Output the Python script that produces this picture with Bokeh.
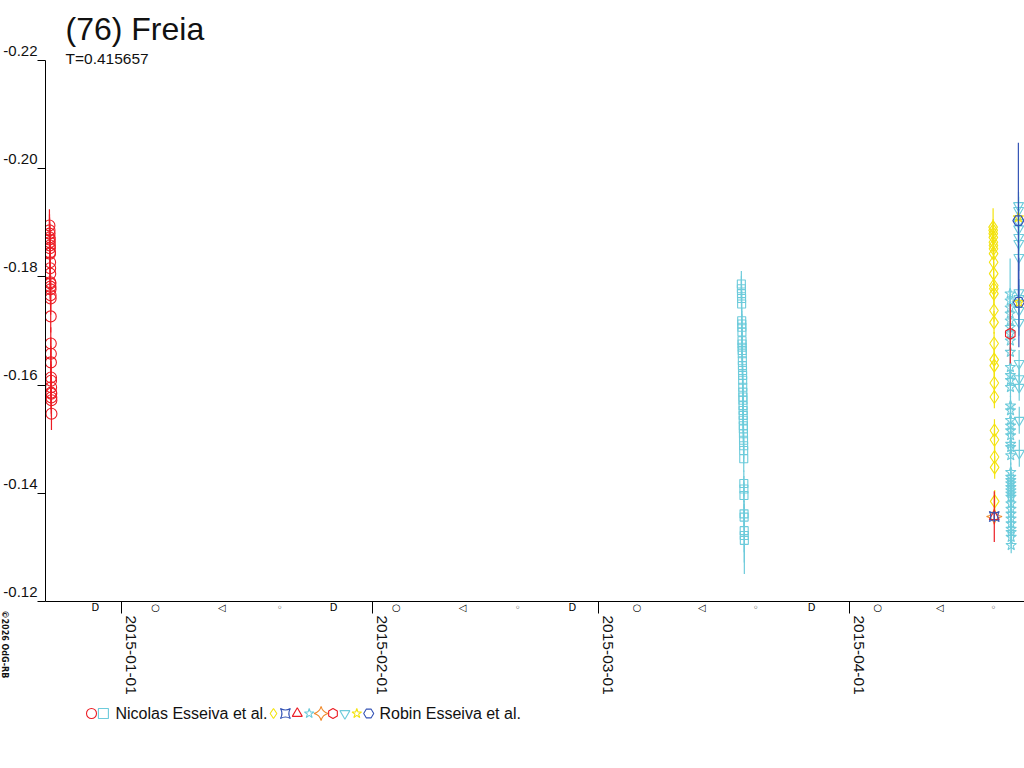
import numpy as np
import pandas as pd
from math import pi
from bokeh.plotting import figure
from bokeh.layouts import column
from bokeh.models import (Range1d, FixedTicker, ColumnDataSource, Label, Title, LinearAxis)
from bokeh.core.properties import value
from bokeh.embed import file_html
from bokeh.resources import INLINE

# ---------------- texts ----------------
TITLE = "(76) Freia"
SUBTITLE = "T=0.415657"
COPYRIGHT = "©2026 OdG-RB"
LEGEND_A = "Nicolas Esseiva et al."
LEGEND_B = "Robin Esseiva et al."

# ---------------- axes ----------------
y_ticks = [-0.22, -0.20, -0.18, -0.16, -0.14, -0.12]
y_tick_labels = ["-0.22", "-0.20", "-0.18", "-0.16", "-0.14", "-0.12"]
x_ticks = ["2015-01-01", "2015-02-01", "2015-03-01", "2015-04-01"]
x_tick_labels = ["2015-01-01", "2015-02-01", "2015-03-01", "2015-04-01"]
x_limits = ["2014-12-22 14:20", "2015-04-22 15:10"]
y_limits = [-0.12, -0.22]

# moon phases (FQ first quarter, FM full, LQ last quarter, NM new)
moon_dates = ["2014-12-28 18:31", "2015-01-05 04:53", "2015-01-13 09:46", "2015-01-20 13:14",
              "2015-01-27 04:48", "2015-02-03 23:09", "2015-02-12 03:50", "2015-02-18 23:47",
              "2015-02-25 17:14", "2015-03-05 18:05", "2015-03-13 17:48", "2015-03-20 09:36",
              "2015-03-27 07:43", "2015-04-04 12:06", "2015-04-12 03:44", "2015-04-18 18:57"]
moon_phase = ["FQ", "FM", "LQ", "NM", "FQ", "FM", "LQ", "NM",
              "FQ", "FM", "LQ", "NM", "FQ", "FM", "LQ", "NM"]

# ---------------- data ----------------
# Nicolas Esseiva et al. - red circles, 2014-12-23
red_circ_day = "2014-12-23"
red_circ_hm = ["02:00", "02:12", "02:24", "02:36", "02:48", "03:00", "03:12", "03:24", "03:36",
               "03:48", "04:00", "04:12", "04:24", "04:36", "04:48", "05:00", "05:12", "05:24",
               "05:36", "05:48", "06:00", "06:12", "06:24", "06:36", "06:48", "07:00", "07:12",
               "07:24", "07:36", "07:48", "08:00"]
red_circ_val = [-0.1895, -0.1886, -0.1880, -0.1873, -0.1869, -0.1864, -0.1858, -0.1853,
                -0.1845, -0.1843, -0.1827, -0.1816, -0.1806, -0.1790, -0.1788, -0.1782,
                -0.1777, -0.1766, -0.1760, -0.1727, -0.1677, -0.1658, -0.1642, -0.1614,
                -0.1608, -0.1596, -0.1586, -0.1584, -0.1577, -0.1572, -0.1547]
red_circ_err = [0.003] * 31

# Nicolas Esseiva et al. - cyan squares, 2015-03-18
cyan_sq_day = "2015-03-18"
cyan_sq_hm = ["15:00", "15:13", "15:26", "15:39", "15:52", "16:05", "16:18", "16:31", "16:44",
              "16:57", "17:10", "17:23", "17:36", "17:49", "18:02", "18:15", "18:28", "18:41",
              "18:54", "19:07", "19:20", "19:33", "19:46", "19:59", "20:12", "20:25", "20:38",
              "20:51", "21:04", "21:17", "21:30", "21:43", "21:56", "22:09", "22:22", "22:35",
              "22:48", "23:01", "23:14", "23:27", "23:40", "23:53"]
cyan_sq_val = [-0.1787, -0.1778, -0.1769, -0.1760, -0.1750, -0.1719, -0.1713, -0.1707,
               -0.1698, -0.1682, -0.1676, -0.1670, -0.1664, -0.1658, -0.1645, -0.1636,
               -0.1627, -0.1618, -0.1609, -0.1596, -0.1587, -0.1578, -0.1572, -0.1562,
               -0.1553, -0.1544, -0.1535, -0.1525, -0.1519, -0.1510, -0.1498, -0.1488,
               -0.1479, -0.1464, -0.1418, -0.1408, -0.1396, -0.1362, -0.1356, -0.1331,
               -0.1322, -0.1313]
cyan_sq_err = [0.0024] * 39 + [0.004, 0.005, 0.0062]

# Robin Esseiva et al. - yellow diamonds, 2015-04-18
yel_dia_day = "2015-04-18"
yel_dia_hm = ["18:00", "18:12", "18:24", "18:36", "18:48", "19:00", "19:12", "19:24", "19:36",
              "19:48", "20:00", "20:12", "20:24", "20:36", "20:48", "21:00", "21:12", "21:24",
              "21:36", "21:48", "22:00", "22:12", "22:24", "22:36", "22:48"]
yel_dia_val = [-0.1892, -0.1886, -0.1880, -0.1873, -0.1864, -0.1858, -0.1852, -0.1843,
               -0.1827, -0.1806, -0.1784, -0.1778, -0.1769, -0.1738, -0.1716, -0.1677,
               -0.1647, -0.1636, -0.1604, -0.1578, -0.1516, -0.1499, -0.1467, -0.1448,
               -0.1385]
yel_dia_err = [0.0035] + [0.0021] * 24

# Robin Esseiva et al. - single points 2015-04-18
blue_pin_t = ["2015-04-18 21:30"]
blue_pin_val = [-0.1357]
blue_pin_err = [0.001]
red_tri_t = ["2015-04-18 21:30"]
red_tri_val = [-0.1357]
red_tri_err = [0.0047]
orange_pin_t = ["2015-04-18 21:30"]
orange_pin_val = [-0.1357]
orange_pin_err = [0.001]

# Robin Esseiva et al. - cyan stars, 2015-04-20
cyan_star_day = "2015-04-20"
cyan_star_hm = ["20:30", "20:35", "20:40", "20:45", "20:50", "20:55", "21:00", "21:05", "21:10",
                "21:15", "21:20", "21:25", "21:30", "21:35", "21:40", "21:45", "21:50", "21:55",
                "22:00", "22:05", "22:10", "22:15", "22:20", "22:25", "22:30", "22:35", "22:40",
                "22:45", "22:50", "22:55", "23:00", "23:05", "23:10", "23:15", "23:20", "23:25",
                "23:30", "23:35", "23:40"]
cyan_star_val = [-0.1769, -0.1756, -0.1743, -0.1732, -0.1719, -0.1707, -0.1695, -0.1682,
                 -0.1661, -0.1633, -0.1618, -0.1609, -0.1596, -0.1562, -0.1553, -0.1535,
                 -0.1525, -0.1516, -0.1507, -0.1491, -0.1485, -0.1470, -0.1439, -0.1430,
                 -0.1424, -0.1418, -0.1411, -0.1405, -0.1399, -0.1393, -0.1381, -0.1371,
                 -0.1362, -0.1353, -0.1344, -0.1334, -0.1328, -0.1319, -0.1304]
cyan_star_err = [0.0065] + [0.0018] * 37 + [0.0015]

# red pentagon
red_pent_t = ["2015-04-20 21:00"]
red_pent_val = [-0.1695]
red_pent_err = [0.0055]

# Robin Esseiva et al. - cyan inverted triangles, 2015-04-21
cyan_itri_day = "2015-04-21"
cyan_itri_hm = ["21:30", "21:39", "21:48", "21:57", "22:06", "22:15", "22:24", "22:33", "22:42",
                "22:51", "23:00", "23:09", "23:18", "23:27", "23:36", "23:45"]
cyan_itri_val = [-0.1932, -0.1923, -0.1901, -0.1889, -0.1873, -0.1862, -0.1836, -0.1771,
                 -0.1760, -0.1738, -0.1716, -0.1640, -0.1612, -0.1596, -0.1535, -0.1474]
cyan_itri_err = [0.0025] * 16

# yellow stars and blue hexagons, 2015-04-21
yel_star_t = ["2015-04-21 21:00", "2015-04-21 22:30"]
yel_star_val = [-0.1910, -0.1753]
yel_star_err = [0.001, 0.001]
blue_hex_t = ["2015-04-21 21:00", "2015-04-21 22:30"]
blue_hex_val = [-0.1904, -0.1753]
blue_hex_err = [0.0144, 0.0083]

# ---------------- styles ----------------
RED = "#ec1c24"
CYAN = "#6dcbdb"
YELLOW = "#f3e30f"
BLUE = "#3453b5"
ORANGE = "#f08a2c"
TXT = "#111111"
SANS = "Liberation Sans"
TICK_FS = "15.5px"

STYLE = {
    "circ": ("circle", RED, 11, 0.0),
    "sq": ("square", CYAN, 8, 0.0),
    "dia": ("diamond", YELLOW, 13, 0.0),
    "bpin": ("square_pin", BLUE, 10, 0.0),
    "rtri": ("triangle", RED, 10, 0.0),
    "star": ("star", CYAN, 11, 0.0),
    "opin": ("square_pin", ORANGE, 11, pi / 4),
    "pent": ("hex", RED, 11, pi / 6),
    "itri": ("inverted_triangle", CYAN, 10, 0.0),
    "ystar": ("star", YELLOW, 11, 0.0),
    "hex": ("hex", BLUE, 11, 0.0),
}
GROUP_A = ["circ", "sq"]
GROUP_B = ["dia", "bpin", "rtri", "star", "opin", "pent", "itri", "ystar", "hex"]


def ms(dates):
    d = pd.to_datetime(pd.Series(dates))
    return ((d - pd.Timestamp("1970-01-01")) // pd.Timedelta(milliseconds=1)).astype(float).tolist()


W, H = 1024, 768
FOOT = 168  # height of the bottom strip (legend + copyright), laid over the figure's foot

p = figure(width=W, height=H, x_axis_type="datetime",
           x_range=Range1d(*ms(x_limits)), y_range=Range1d(*y_limits),
           output_backend="svg", toolbar_location=None,
           min_border_left=45, min_border_right=0, min_border_top=60, min_border_bottom=167)
p.title = None
p.grid.visible = False
p.outline_line_color = None
p.background_fill_color = "white"
p.border_fill_color = "white"

# ---- y axis: ticks + labels (label sits above its tick) ----
yax = p.yaxis[0]
yax.ticker = FixedTicker(ticks=y_ticks)
yax.major_label_overrides = {t: lab + "\n " for t, lab in zip(y_ticks, y_tick_labels)}
yax.major_label_text_font = SANS
yax.major_label_text_font_size = "15px"
yax.major_label_text_color = TXT
yax.major_label_standoff = 0
yax.major_tick_out = 8
yax.major_tick_in = 0
yax.minor_tick_out = 0
yax.minor_tick_in = 0
yax.axis_line_color = "#000000"
yax.major_tick_line_color = "#000000"

# ---- x axis: month ticks (minor) + moon phase symbols (major, no tick mark) ----
moon_sym = {"FQ": "D", "FM": "○", "LQ": "◁", "NM": "◦"}
moon_ms = ms(moon_dates)
month_ms = ms(x_ticks)
xax = p.xaxis[0]
xax.ticker = FixedTicker(ticks=moon_ms, minor_ticks=month_ms)
xax.major_label_overrides = {t: moon_sym[k] for t, k in zip(moon_ms, moon_phase)}
xax.major_label_text_font = "DejaVu Sans"
xax.major_label_text_font_size = "10px"
xax.major_label_text_color = "#000000"
xax.major_label_standoff = -12
xax.major_tick_out = 0
xax.major_tick_in = 0
xax.minor_tick_out = 12
xax.minor_tick_in = 0
xax.minor_tick_line_color = "#000000"
xax.axis_line_color = "#000000"

# ---- second x axis: rotated month labels ----
xlab = LinearAxis(ticker=FixedTicker(ticks=month_ms),
                  major_label_overrides={t: lab + "\n " for t, lab in zip(month_ms, x_tick_labels)},
                  major_label_orientation=-pi / 2, major_label_standoff=0,
                  major_label_text_font=SANS, major_label_text_font_size=TICK_FS,
                  major_label_text_color=TXT,
                  axis_line_color=None, major_tick_line_color=None, minor_tick_line_color=None,
                  major_tick_out=0, major_tick_in=0, minor_tick_out=0, minor_tick_in=0)
p.add_layout(xlab, "below")


def add_series(key, times, vals, errs):
    marker, color, size, angle = STYLE[key]
    t = ms(times)
    v = np.array(vals, dtype=float)
    e = np.array(errs, dtype=float)
    src = ColumnDataSource(dict(t=t, v=v, lo=v - e, hi=v + e))
    p.segment(x0="t", y0="lo", x1="t", y1="hi", source=src, line_color=color, line_width=1.2)
    p.scatter(x="t", y="v", source=src, marker=marker, size=size, angle=angle,
              line_color=color, fill_color=None, line_width=1.1)


def join(day, hms):
    return [day + " " + h for h in hms]


add_series("circ", join(red_circ_day, red_circ_hm), red_circ_val, red_circ_err)
add_series("sq", join(cyan_sq_day, cyan_sq_hm), cyan_sq_val, cyan_sq_err)
add_series("dia", join(yel_dia_day, yel_dia_hm), yel_dia_val, yel_dia_err)
add_series("opin", orange_pin_t, orange_pin_val, orange_pin_err)
add_series("rtri", red_tri_t, red_tri_val, red_tri_err)
add_series("bpin", blue_pin_t, blue_pin_val, blue_pin_err)
add_series("star", join(cyan_star_day, cyan_star_hm), cyan_star_val, cyan_star_err)
add_series("pent", red_pent_t, red_pent_val, red_pent_err)
add_series("itri", join(cyan_itri_day, cyan_itri_hm), cyan_itri_val, cyan_itri_err)
add_series("ystar", yel_star_t, yel_star_val, yel_star_err)
add_series("hex", blue_hex_t, blue_hex_val, blue_hex_err)

# ---- title and subtitle (subtitle first = closest to the frame) ----
p.add_layout(Title(text=SUBTITLE, align="left", offset=20, standoff=-13,
                   text_font=SANS, text_font_size=TICK_FS, text_font_style="normal",
                   text_color=TXT), "above")
p.add_layout(Title(text=TITLE, align="left", offset=20, standoff=16,
                   text_font=SANS, text_font_size="32px", text_font_style="normal",
                   text_color=TXT), "above")

# ---- bottom strip: legend keys and copyright (transparent, laid over the figure's foot) ----
foot = figure(width=W, height=FOOT, x_range=Range1d(0, W), y_range=Range1d(FOOT, 0),
              x_axis_location=None, y_axis_location=None, toolbar_location=None,
              output_backend="svg", min_border=0, margin=(-FOOT, 0, 0, 0))
foot.title = None
foot.grid.visible = False
foot.outline_line_color = None
foot.background_fill_alpha = 0
foot.border_fill_alpha = 0
for fig in (p, foot):
    if "frame_align" in fig.properties():
        fig.frame_align = False

# legend layout (pixels inside the strip)
LEG_Y = 113
A_X0, B_X0, KEY_STEP = 91, 273, 11.9
A_TEXT_X, B_TEXT_X = 115, 379


def add_keys(keys, x0):
    for i, key in enumerate(keys):
        marker, color, size, angle = STYLE[key]
        foot.scatter(x=[x0 + i * KEY_STEP], y=[LEG_Y], marker=marker, size=10, angle=angle,
                     line_color=color, fill_color=None, line_width=1.1)


add_keys(GROUP_A, A_X0)
add_keys(GROUP_B, B_X0)
foot.text(x=[A_TEXT_X, B_TEXT_X], y=[LEG_Y, LEG_Y], text=[LEGEND_A, LEGEND_B],
          text_font=value(SANS), text_font_size=value("16px"), text_color=TXT,
          text_align="left", text_baseline="middle")

foot.add_layout(Label(x=4, y=FOOT - 10, x_units="screen", y_units="screen", text=COPYRIGHT,
                      angle=-pi / 2, text_font="DejaVu Sans", text_font_size="8px",
                      text_font_style="bold", text_color=TXT,
                      text_align="left", text_baseline="alphabetic"))

layout = column(p, foot, spacing=0)
open("out.html", "w").write(file_html(layout, INLINE))
